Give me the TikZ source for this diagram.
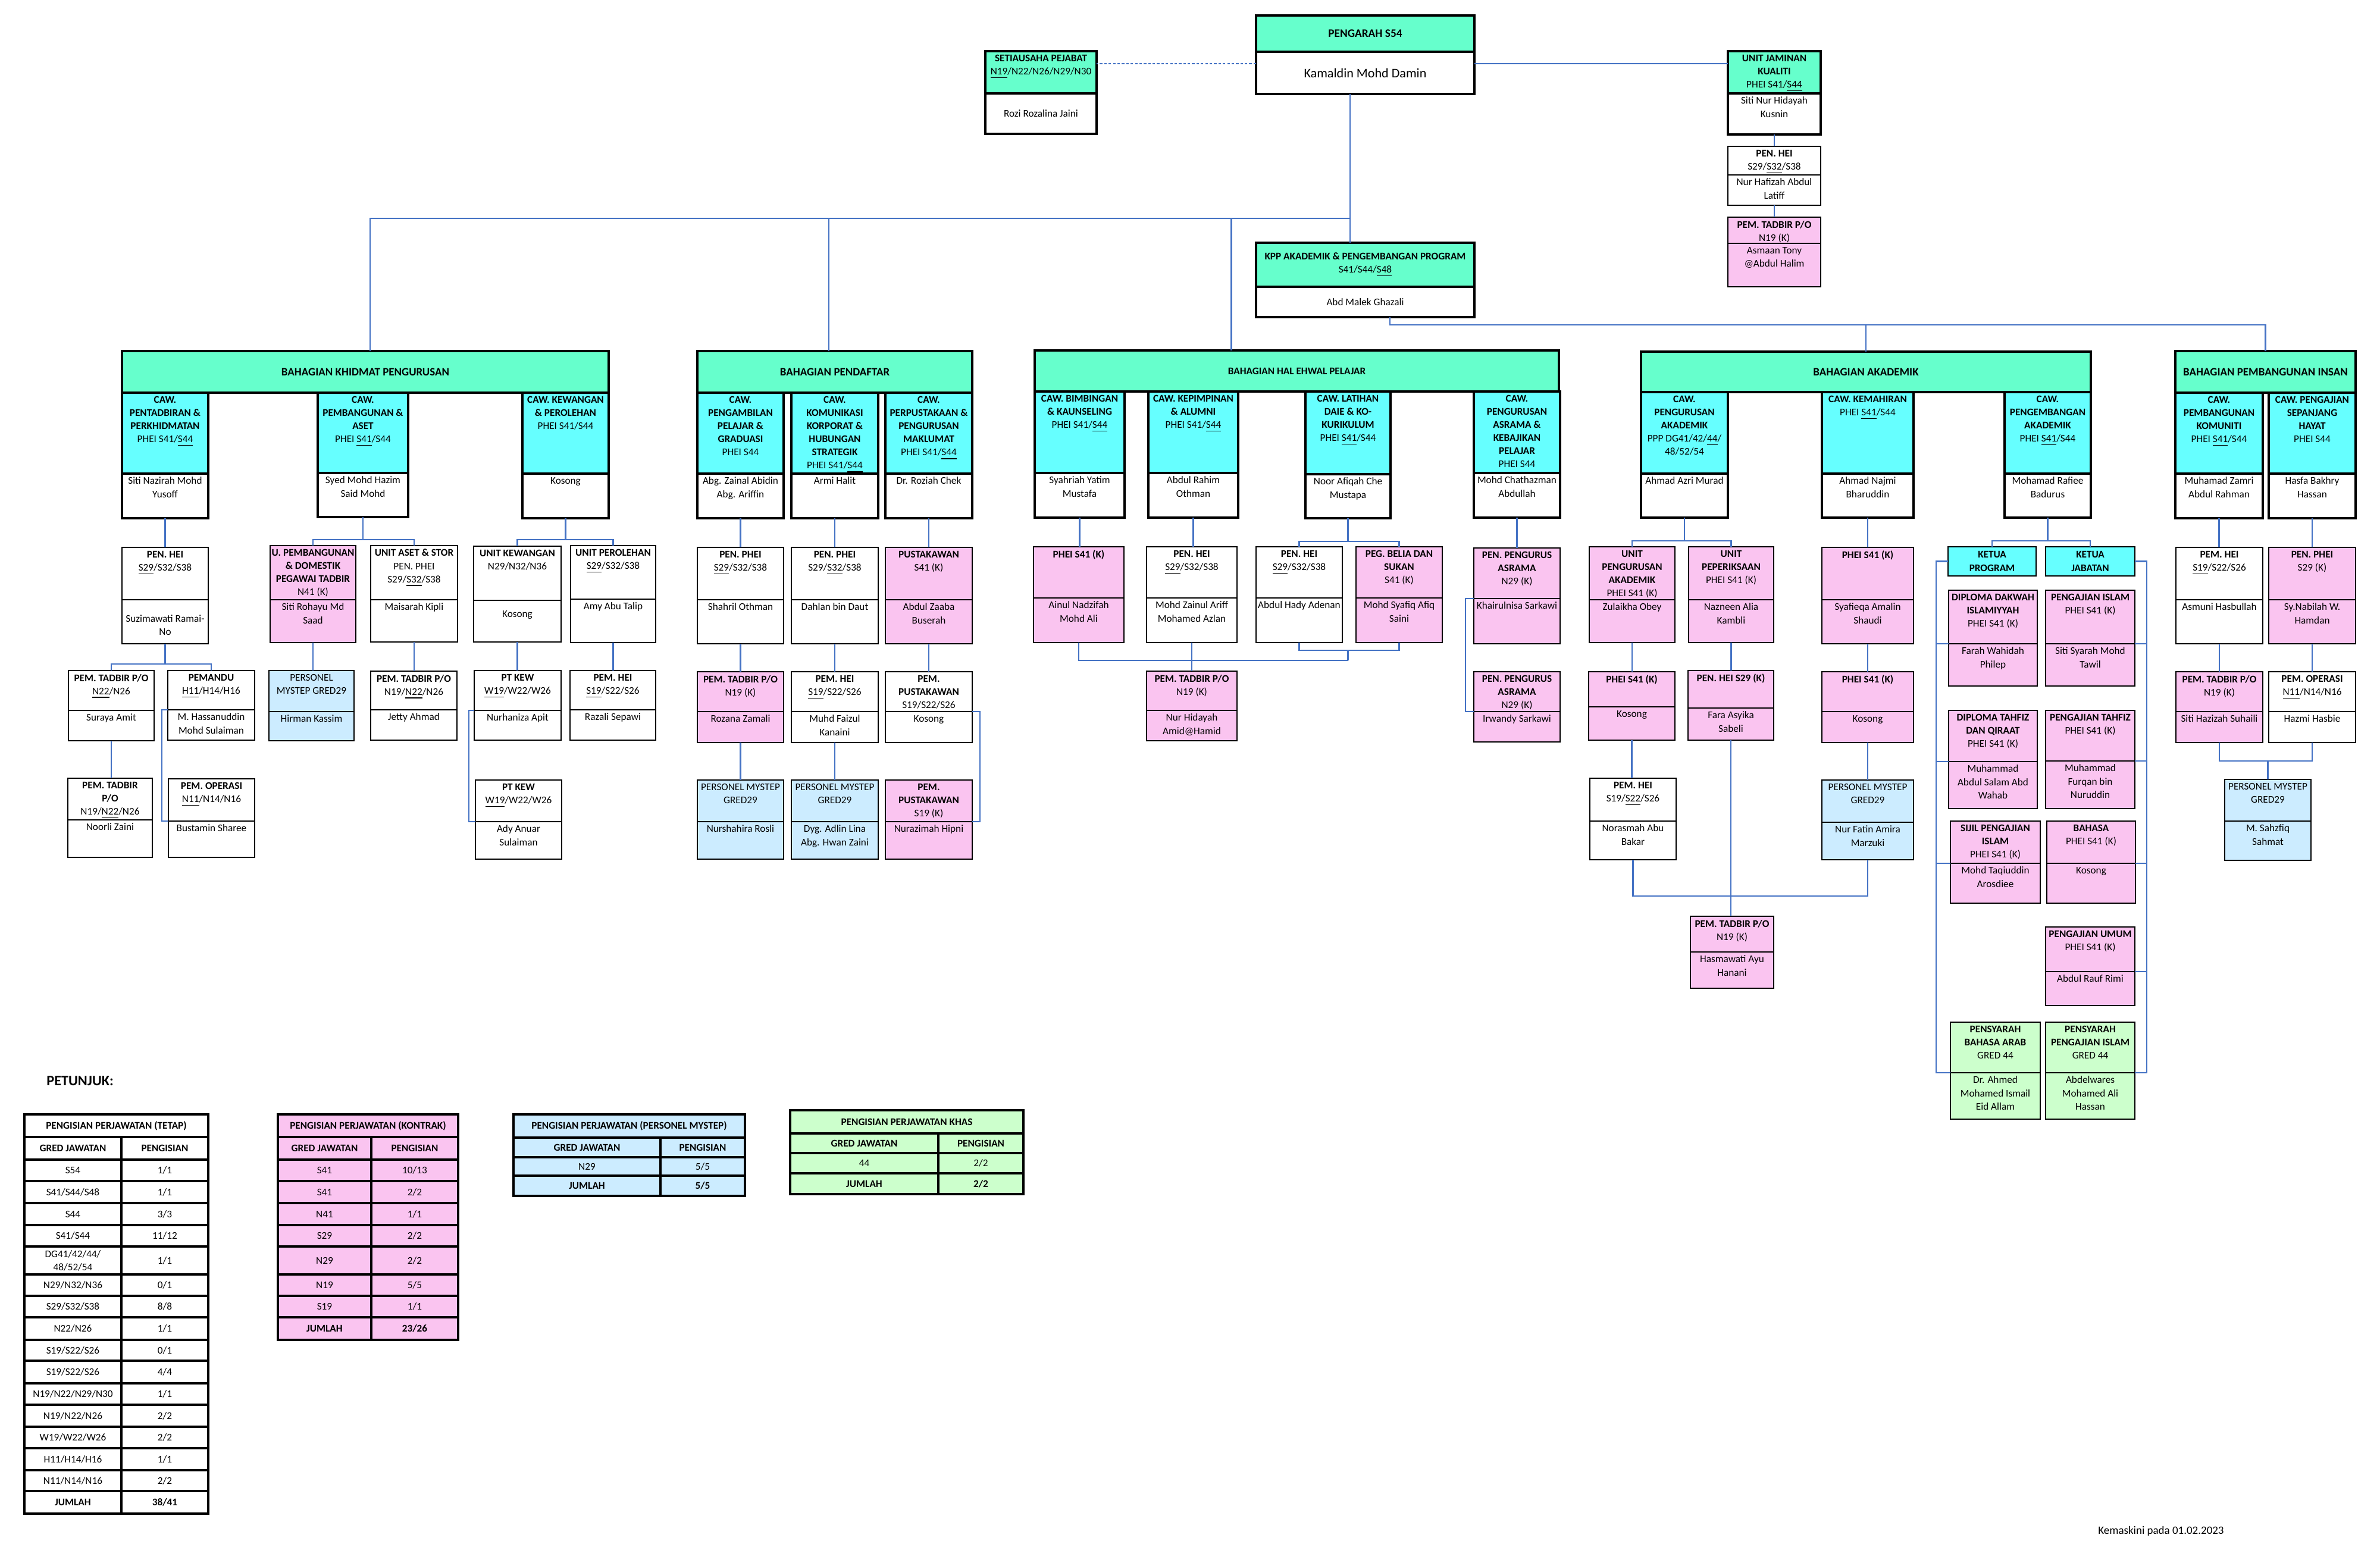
\documentclass[tikz,border=0pt]{standalone}
\usepackage{fontspec}
\setmainfont{Carlito}
\usepackage{tikz}
\usetikzlibrary{positioning,calc}
\definecolor{mint}{RGB}{102,255,204}
\definecolor{aqua}{RGB}{102,255,255}
\definecolor{pinkc}{RGB}{250,196,240}
\definecolor{skyc}{RGB}{204,236,255}
\definecolor{leaf}{RGB}{204,255,204}
\definecolor{linkblue}{RGB}{68,114,196}
\newcommand{\fs}{\fontsize{4.9}{6.3}\selectfont}
% post: name, header style, name style, top left, width, header height, name height, header text, person
\newcommand{\post}[9]{%
  \node[cell, anchor=north west, minimum width=#5cm, minimum height=#6cm, #2] (#1) at (#4) {};
  \node[cell, below=0pt of #1, minimum width=#5cm, minimum height=#7cm, #3] (#1-n) {};
  \node[txt] (#1-t) at (#1.north) {#8};
  \node[txt] (#1-nt) at (#1-n.north) {#9};
}

\begin{document}
\begin{tikzpicture}[x=1cm, y=-1cm,
    cell/.style={draw, inner sep=0pt, outer sep=0pt, line width=0.45pt},
    thk/.style={line width=0.95pt},
    box/.style={cell, anchor=north west, align=center, font=\fs},
    bhd/.style={box, thk, fill=mint, font=\bfseries\fontsize{5.4}{6.5}\selectfont},
    txt/.style={anchor=north, align=center, inner sep=1.5pt, font=\fs},
    wire/.style={draw=linkblue, line width=0.7pt},
    tbl/.style={cell, line width=0.9pt, anchor=north west, align=center, font=\fs}]
    \useasboundingbox (0,0) rectangle (40,26.27);

    % Pengarah
    \node[box, thk, fill=mint, minimum width=3.67cm, minimum height=0.61cm, font=\bfseries\fontsize{5.5}{6.5}\selectfont] (pengarah) at (21.11,0.26) {PENGARAH S54};
    \node[cell, thk, below=0pt of pengarah, minimum width=3.67cm, minimum height=0.71cm, font=\fontsize{6.3}{7.5}\selectfont] (pengarah-n) {Kamaldin Mohd Damin};

    % Setiausaha and Unit Jaminan Kualiti
    \post{setia}{fill=mint, thk}{thk}{16.56,0.86}{1.87}{0.71}{0.68}{\textbf{SETIAUSAHA PEJABAT}\\\underline{N19}/N22/N26/N29/N30}{\rule{0pt}{9.5pt}Rozi Rozalina Jaini}
    \post{ujk}{fill=mint, thk}{thk}{29.04,0.86}{1.56}{0.71}{0.69}{\textbf{UNIT JAMINAN}\\\textbf{KUALITI}\\PHEI S41/\underline{S44}}{Siti Nur Hidayah\\Kusnin}
    \post{ujkhei}{}{}{29.04,2.46}{1.56}{0.48}{0.51}{\textbf{PEN. HEI}\\S29/\underline{S32}/S38}{Nur Hafizah Abdul\\Latiff}
    \post{ujkpt}{fill=pinkc}{fill=pinkc}{29.04,3.65}{1.56}{0.44}{0.73}{\textbf{PEM. TADBIR P/O}\\N19 (K)}{Asmaan Tony\\@Abdul Halim}

    % KPP
    \node[box, thk, fill=mint, minimum width=3.67cm, minimum height=0.74cm] (kpp) at (21.11,4.08) {\textbf{KPP AKADEMIK \& PENGEMBANGAN PROGRAM}\\S41/S44/\underline{S48}};
    \node[cell, thk, below=0pt of kpp, minimum width=3.67cm, minimum height=0.51cm, font=\fs] (kpp-n) {Abd Malek Ghazali};

    % Bahagian headers
    \node[bhd, minimum width=8.18cm, minimum height=0.70cm] (bkp) at (2.05,5.90) {BAHAGIAN KHIDMAT PENGURUSAN};
    \node[bhd, minimum width=4.62cm, minimum height=0.70cm] (bpd) at (11.72,5.90) {BAHAGIAN PENDAFTAR};
    \node[bhd, minimum width=8.81cm, minimum height=0.69cm, font=\bfseries\fs] (bhep) at (17.39,5.89) {BAHAGIAN HAL EHWAL PELAJAR};
    \node[bhd, minimum width=7.56cm, minimum height=0.68cm] (bak) at (27.58,5.91) {BAHAGIAN AKADEMIK};
    \node[bhd, minimum width=3.03cm, minimum height=0.70cm] (bpi) at (36.56,5.90) {BAHAGIAN PEMBANGUNAN INSAN};

    % Bahagian Khidmat Pengurusan
    \post{cpp}{fill=aqua, thk}{thk}{2.05,6.60}{1.45}{1.36}{0.75}{\textbf{CAW.}\\\textbf{PENTADBIRAN \&}\\\textbf{PERKHIDMATAN}\\PHEI S41/\underline{S44}}{Siti Nazirah Mohd\\Yusoff}
    \post{cpa}{fill=aqua, thk}{thk}{5.34,6.60}{1.52}{1.35}{0.74}{\textbf{CAW.}\\\textbf{PEMBANGUNAN \&}\\\textbf{ASET}\\PHEI \underline{S41}/S44}{Syed Mohd Hazim\\Said Mohd}
    \post{ckw}{fill=aqua, thk}{thk}{8.78,6.60}{1.45}{1.36}{0.75}{\textbf{CAW. KEWANGAN}\\\textbf{\& PEROLEHAN}\\PHEI S41/S44}{Kosong}
    \post{phei1}{}{}{2.05,9.20}{1.45}{0.88}{0.74}{\textbf{PEN. HEI}\\\underline{S29}/S32/S38}{\rule{0pt}{9pt}Suzimawati Ramai-\\No}
    \post{upd}{fill=pinkc}{fill=pinkc}{4.54,9.17}{1.44}{0.91}{0.72}{\textbf{U. PEMBANGUNAN}\\\textbf{\& DOMESTIK}\\\textbf{PEGAWAI TADBIR}\\N41 (K)}{Siti Rohayu Md\\Saad}
    \post{uas}{}{}{6.23,9.17}{1.46}{0.91}{0.71}{\textbf{UNIT ASET \& STOR}\\PEN. PHEI\\S29/\underline{S32}/S38}{Maisarah Kipli}
    \post{ukw}{}{}{7.96,9.18}{1.47}{0.91}{0.70}{\textbf{UNIT KEWANGAN}\\N29/N32/N36}{\rule{0pt}{6.5pt}Kosong}
    \post{upr}{}{}{9.59,9.17}{1.43}{0.90}{0.73}{\textbf{UNIT PEROLEHAN}\\\underline{S29}/S32/S38}{Amy Abu Talip}
    \post{ptp1}{}{}{1.15,11.27}{1.44}{0.67}{0.51}{\textbf{PEM. TADBIR P/O}\\\underline{N22}/N26}{Suraya Amit}
    \post{pmd}{}{}{2.82,11.27}{1.46}{0.66}{0.51}{\textbf{PEMANDU}\\\underline{H11}/H14/H16}{M. Hassanuddin\\Mohd Sulaiman}
    \post{ptp2}{}{}{1.14,13.08}{1.42}{0.70}{0.63}{\textbf{PEM. TADBIR}\\\textbf{P/O}\\N19/\underline{N22}/N26}{Noorli Zaini}
    \post{pop1}{}{}{2.83,13.09}{1.45}{0.71}{0.61}{\textbf{PEM. OPERASI}\\\underline{N11}/N14/N16}{Bustamin Sharee}
    \post{pms1}{fill=skyc}{fill=skyc}{4.52,11.27}{1.43}{0.69}{0.49}{PERSONEL\\MYSTEP GRED29}{Hirman Kassim}
    \post{ptp3}{}{}{6.23,11.28}{1.45}{0.65}{0.51}{\textbf{PEM. TADBIR P/O}\\N19/\underline{N22}/N26}{Jetty Ahmad}
    \post{ptk1}{}{}{7.97,11.27}{1.46}{0.67}{0.50}{\textbf{PT KEW}\\\underline{W19}/W22/W26}{Nurhaniza Apit}
    \post{pmh1}{}{}{9.58,11.27}{1.44}{0.66}{0.51}{\textbf{PEM. HEI}\\\underline{S19}/S22/S26}{Razali Sepawi}
    \post{ptk2}{}{}{7.99,13.11}{1.45}{0.70}{0.63}{\textbf{PT KEW}\\\underline{W19}/W22/W26}{Ady Anuar\\Sulaiman}

    % Bahagian Pendaftar
    \post{cpg}{fill=aqua, thk}{thk}{11.72,6.60}{1.45}{1.36}{0.75}{\textbf{CAW.}\\\textbf{PENGAMBILAN}\\\textbf{PELAJAR \&}\\\textbf{GRADUASI}\\PHEI S44}{Abg. Zainal Abidin\\Abg. Ariffin}
    \post{ckk}{fill=aqua, thk}{thk}{13.30,6.60}{1.46}{1.36}{0.75}{\textbf{CAW.}\\\textbf{KOMUNIKASI}\\\textbf{KORPORAT \&}\\\textbf{HUBUNGAN}\\\textbf{STRATEGIK}\\PHEI S41/\underline{S44}}{Armi Halit}
    \post{cpk}{fill=aqua, thk}{thk}{14.88,6.60}{1.46}{1.36}{0.75}{\textbf{CAW.}\\\textbf{PERPUSTAKAAN \&}\\\textbf{PENGURUSAN}\\\textbf{MAKLUMAT}\\PHEI S41/\underline{S44}}{Dr. Roziah Chek}
    \post{pph1}{}{}{11.72,9.20}{1.45}{0.88}{0.74}{\textbf{PEN. PHEI}\\\underline{S29}/S32/S38}{Shahril Othman}
    \post{pph2}{}{}{13.30,9.20}{1.46}{0.88}{0.74}{\textbf{PEN. PHEI}\\S29/\underline{S32}/S38}{Dahlan bin Daut}
    \post{pus}{fill=pinkc}{fill=pinkc}{14.88,9.20}{1.46}{0.88}{0.74}{\textbf{PUSTAKAWAN}\\S41 (K)}{Abdul Zaaba\\Buserah}
    \post{ptp4}{fill=pinkc}{fill=pinkc}{11.72,11.29}{1.45}{0.67}{0.52}{\textbf{PEM. TADBIR P/O}\\N19 (K)}{Rozana Zamali}
    \post{pmh2}{}{}{13.30,11.29}{1.46}{0.67}{0.52}{\textbf{PEM. HEI}\\\underline{S19}/S22/S26}{Muhd Faizul\\Kanaini}
    \post{pps1}{}{}{14.88,11.29}{1.46}{0.67}{0.52}{\textbf{PEM.}\\\textbf{PUSTAKAWAN}\\S19/S22/S26}{Kosong}
    \post{pms2}{fill=skyc}{fill=skyc}{11.72,13.11}{1.45}{0.70}{0.63}{PERSONEL MYSTEP\\GRED29}{Nurshahira Rosli}
    \post{pms3}{fill=skyc}{fill=skyc}{13.30,13.11}{1.46}{0.70}{0.63}{PERSONEL MYSTEP\\GRED29}{Dyg. Adlin Lina\\Abg. Hwan Zaini}
    \post{pps2}{fill=pinkc}{fill=pinkc}{14.88,13.11}{1.46}{0.70}{0.63}{\textbf{PEM.}\\\textbf{PUSTAKAWAN}\\S19 (K)}{Nurazimah Hipni}

    % Bahagian Hal Ehwal Pelajar
    \post{cbk}{fill=aqua, thk}{thk}{17.39,6.58}{1.51}{1.37}{0.75}{\textbf{CAW. BIMBINGAN}\\\textbf{\& KAUNSELING}\\PHEI S41/\underline{S44}}{Syahriah Yatim\\Mustafa}
    \post{ckp}{fill=aqua, thk}{thk}{19.30,6.58}{1.51}{1.37}{0.75}{\textbf{CAW. KEPIMPINAN}\\\textbf{\& ALUMNI}\\PHEI S41/\underline{S44}}{Abdul Rahim\\Othman}
    \post{cld}{fill=aqua, thk}{thk}{21.94,6.58}{1.43}{1.39}{0.74}{\textbf{CAW. LATIHAN}\\\textbf{DAIE \& KO-}\\\textbf{KURIKULUM}\\PHEI \underline{S41}/S44}{Noor Afiqah Che\\Mustapa}
    \post{cas}{fill=aqua, thk}{thk}{24.77,6.58}{1.45}{1.37}{0.75}{\textbf{CAW.}\\\textbf{PENGURUSAN}\\\textbf{ASRAMA \&}\\\textbf{KEBAJIKAN}\\\textbf{PELAJAR}\\PHEI S44}{Mohd Chathazman\\Abdullah}
    \post{phk1}{fill=pinkc}{fill=pinkc}{17.37,9.19}{1.52}{0.86}{0.75}{\textbf{PHEI S41 (K)}}{Ainul Nadzifah\\Mohd Ali}
    \post{phe2}{}{}{19.27,9.19}{1.52}{0.86}{0.75}{\textbf{PEN. HEI}\\\underline{S29}/S32/S38}{Mohd Zainul Ariff\\Mohamed Azlan}
    \post{phe3}{}{}{21.11,9.19}{1.45}{0.86}{0.75}{\textbf{PEN. HEI}\\\underline{S29}/S32/S38}{Abdul Hady Adenan}
    \post{pbs}{fill=pinkc}{fill=pinkc}{22.79,9.19}{1.45}{0.86}{0.75}{\textbf{PEG. BELIA DAN}\\\textbf{SUKAN}\\S41 (K)}{Mohd Syafiq Afiq\\Saini}
    \post{ppa1}{fill=pinkc}{fill=pinkc}{24.77,9.21}{1.45}{0.85}{0.76}{\textbf{PEN. PENGURUS}\\\textbf{ASRAMA}\\N29 (K)}{Khairulnisa Sarkawi}
    \post{ptp5}{fill=pinkc}{fill=pinkc}{19.27,11.28}{1.52}{0.66}{0.51}{\textbf{PEM. TADBIR P/O}\\N19 (K)}{Nur Hidayah\\Amid@Hamid}
    \post{ppa2}{fill=pinkc}{fill=pinkc}{24.77,11.29}{1.45}{0.67}{0.51}{\textbf{PEN. PENGURUS}\\\textbf{ASRAMA}\\N29 (K)}{Irwandy Sarkawi}

    % Bahagian Akademik
    \post{cpak}{fill=aqua, thk}{thk}{27.58,6.59}{1.46}{1.37}{0.74}{\textbf{CAW.}\\\textbf{PENGURUSAN}\\\textbf{AKADEMIK}\\PPP DG41/42/\underline{44}/\\48/52/54}{Ahmad Azri Murad}
    \post{ckm}{fill=aqua, thk}{thk}{30.62,6.59}{1.54}{1.37}{0.74}{\textbf{CAW. KEMAHIRAN}\\PHEI \underline{S41}/S44}{Ahmad Najmi\\Bharuddin}
    \post{cpga}{fill=aqua, thk}{thk}{33.69,6.59}{1.45}{1.37}{0.74}{\textbf{CAW.}\\\textbf{PENGEMBANGAN}\\\textbf{AKADEMIK}\\PHEI \underline{S41}/S44}{Mohamad Rafiee\\Badurus}
    \post{upa}{fill=pinkc}{fill=pinkc}{26.71,9.19}{1.44}{0.89}{0.72}{\textbf{UNIT}\\\textbf{PENGURUSAN}\\\textbf{AKADEMIK}\\PHEI S41 (K)}{Zulaikha Obey}
    \post{upk}{fill=pinkc}{fill=pinkc}{28.38,9.19}{1.43}{0.89}{0.72}{\textbf{UNIT}\\\textbf{PEPERIKSAAN}\\PHEI S41 (K)}{Nazneen Alia\\Kambli}
    \post{psk1}{fill=pinkc}{fill=pinkc}{30.62,9.20}{1.54}{0.88}{0.74}{\textbf{PHEI S41 (K)}}{Syafieqa Amalin\\Shaudi}
    \post{psk2}{fill=pinkc}{fill=pinkc}{26.70,11.29}{1.45}{0.59}{0.56}{\textbf{PHEI S41 (K)}}{Kosong}
    \post{phs}{fill=pinkc}{fill=pinkc}{28.37,11.27}{1.44}{0.63}{0.54}{\textbf{PEN. HEI S29 (K)}}{Fara Asyika\\Sabeli}
    \post{psk3}{fill=pinkc}{fill=pinkc}{30.62,11.29}{1.54}{0.67}{0.52}{\textbf{PHEI S41 (K)}}{Kosong}
    \post{pmh3}{}{}{26.72,13.08}{1.45}{0.72}{0.65}{\textbf{PEM. HEI}\\S19/\underline{S22}/S26}{Norasmah Abu\\Bakar}
    \post{pms4}{fill=skyc}{fill=skyc}{30.62,13.11}{1.54}{0.71}{0.63}{PERSONEL MYSTEP\\GRED29}{Nur Fatin Amira\\Marzuki}
    \post{ptp6}{fill=pinkc}{fill=pinkc}{28.41,15.40}{1.40}{0.60}{0.61}{\textbf{PEM. TADBIR P/O}\\N19 (K)}{Hasmawati Ayu\\Hanani}
    \node[box, fill=aqua, line width=0.7pt, minimum width=1.48cm, minimum height=0.49cm, font=\bfseries\fs] (ktp) at (32.74,9.19) {KETUA\\PROGRAM};
    \node[box, fill=aqua, line width=0.7pt, minimum width=1.50cm, minimum height=0.49cm, font=\bfseries\fs] (ktj) at (34.38,9.19) {KETUA\\JABATAN};
    \post{ddi}{fill=pinkc}{fill=pinkc}{32.75,9.92}{1.49}{0.90}{0.71}{\textbf{DIPLOMA DAKWAH}\\\textbf{ISLAMIYYAH}\\PHEI S41 (K)}{Farah Wahidah\\Philep}
    \post{dtq}{fill=pinkc}{fill=pinkc}{32.75,11.94}{1.49}{0.86}{0.79}{\textbf{DIPLOMA TAHFIZ}\\\textbf{DAN QIRAAT}\\PHEI S41 (K)}{Muhammad\\Abdul Salam Abd\\Wahab}
    \post{spi}{fill=pinkc}{fill=pinkc}{32.78,13.80}{1.51}{0.71}{0.67}{\textbf{SIJIL PENGAJIAN}\\\textbf{ISLAM}\\PHEI S41 (K)}{Mohd Taqiuddin\\Arosdiee}
    \post{pba}{fill=leaf}{fill=leaf}{32.78,17.18}{1.51}{0.85}{0.78}{\textbf{PENSYARAH}\\\textbf{BAHASA ARAB}\\GRED 44}{Dr. Ahmed\\Mohamed Ismail\\Eid Allam}
    \post{pgi}{fill=pinkc}{fill=pinkc}{34.38,9.92}{1.50}{0.90}{0.71}{\textbf{PENGAJIAN ISLAM}\\PHEI S41 (K)}{Siti Syarah Mohd\\Tawil}
    \post{pgt}{fill=pinkc}{fill=pinkc}{34.38,11.94}{1.50}{0.85}{0.80}{\textbf{PENGAJIAN TAHFIZ}\\PHEI S41 (K)}{Muhammad\\Furqan bin\\Nuruddin}
    \post{bhs}{fill=pinkc}{fill=pinkc}{34.40,13.80}{1.49}{0.71}{0.67}{\textbf{BAHASA}\\PHEI S41 (K)}{Kosong}
    \post{pgu}{fill=pinkc}{fill=pinkc}{34.38,15.58}{1.50}{0.75}{0.57}{\textbf{PENGAJIAN UMUM}\\PHEI S41 (K)}{Abdul Rauf Rimi}
    \post{ppi}{fill=leaf}{fill=leaf}{34.38,17.18}{1.50}{0.85}{0.78}{\textbf{PENSYARAH}\\\textbf{PENGAJIAN ISLAM}\\GRED 44}{Abdelwares\\Mohamed Ali\\Hassan}

    % Bahagian Pembangunan Insan
    \post{ckom}{fill=aqua, thk}{thk}{36.56,6.60}{1.47}{1.36}{0.75}{\textbf{CAW.}\\\textbf{PEMBANGUNAN}\\\textbf{KOMUNITI}\\PHEI \underline{S41}/S44}{Muhamad Zamri\\Abdul Rahman}
    \post{csh}{fill=aqua, thk}{thk}{38.13,6.60}{1.46}{1.36}{0.75}{\textbf{CAW. PENGAJIAN}\\\textbf{SEPANJANG}\\\textbf{HAYAT}\\PHEI S44}{Hasfa Bakhry\\Hassan}
    \post{pmh4}{}{}{36.57,9.20}{1.46}{0.88}{0.74}{\textbf{PEM. HEI}\\\underline{S19}/S22/S26}{Asmuni Hasbullah}
    \post{pph3}{fill=pinkc}{fill=pinkc}{38.13,9.20}{1.46}{0.88}{0.74}{\textbf{PEN. PHEI}\\S29 (K)}{Sy.Nabilah W.\\Hamdan}
    \post{ptp7}{fill=pinkc}{fill=pinkc}{36.57,11.29}{1.46}{0.67}{0.52}{\textbf{PEM. TADBIR P/O}\\N19 (K)}{Siti Hazizah Suhaili}
    \post{pop2}{}{}{38.13,11.29}{1.46}{0.67}{0.52}{\textbf{PEM. OPERASI}\\\underline{N11}/N14/N16}{Hazmi Hasbie}
    \post{pms5}{fill=skyc}{fill=skyc}{37.39,13.10}{1.45}{0.70}{0.66}{PERSONEL MYSTEP\\GRED29}{M. Sahzfiq\\Sahmat}

    % Connectors: top
    \coordinate (t0) at (22.69,3.67);
    \draw[wire] (t0 |- pengarah-n.south) -- (t0 |- kpp.north);
    \coordinate (d1) at ($(pengarah-n.north west)+(0,0.2)$);
    \draw[wire, line width=0.8pt, dash pattern=on 1.2pt off 0.9pt] (d1) -- (d1 -| setia.east);
    \draw[wire] (d1 -| pengarah-n.east) -- (d1 -| ujk.west);
    \draw[wire] (ujk-n.south) -- (ujk-n.south |- ujkhei.north);
    \draw[wire] (ujkhei-n.south) -- (ujkhei-n.south |- ujkpt.north);
    \coordinate (bkpin) at ([xshift=0.08cm]bkp.north);
    \coordinate (bpdin) at ([xshift=-0.1cm]bpd.north);
    \coordinate (hepin) at ([xshift=-1.1cm]bhep.north);
    \draw[wire] (t0) -| (bkpin);
    \draw[wire] (bpdin |- t0) -- (bpdin);
    \draw[wire] (hepin |- t0) -- (hepin);
    \coordinate (t1) at (23.36,5.46);
    \draw[wire] (t1 |- kpp-n.south) -- (t1) -| (bpi.north);
    \draw[wire] (t1 -| bak.north) -- (bak.north);

    % Connectors: straight drops
    \foreach \a/\b in {cpp/phei1, ptp1/ptp2, upd/pms1, uas/ptp3, ukw/ptk1, upr/pmh1,
        cpg/pph1, ckk/pph2, cpk/pus, pph1/ptp4, pph2/pmh2, pus/pps1, ptp4/pms2, pmh2/pms3,
        cbk/phk1, ckp/phe2, cas/ppa1, phe2/ptp5,
        upa/psk2, psk2/pmh3, upk/phs, phs/ptp6, ckm/psk1, psk1/psk3, psk3/pms4,
        ckom/pmh4, csh/pph3, pmh4/ptp7, pph3/pop2}
        \draw[wire] (\a-n.south) -- (\a-n.south |- \b.north);

    % Connectors: brackets and elbows
    \draw[wire] (cpa-n.south) -- ++(0,0.38) coordinate (b1) (upd.north) |- (b1) -| (uas.north);
    \draw[wire] (ckw-n.south) -- ++(0,0.36) coordinate (b2) (ukw.north) |- (b2) -| (upr.north);
    \draw[wire] (phei1-n.south) -- ++(0,0.34) coordinate (b3) (ptp1.north) |- (b3) -| (pmd.north);
    \draw[wire] (pmd.south west) -- ++(-0.1,0) |- (pop1.south west);
    \draw[wire] (ptk1.south west) -- ++(-0.09,0) |- (ptk2.south west);
    \draw[wire] (pps1.south east) -- ++(0.13,0) |- (pps2.south east);
    \draw[wire] (cld-n.south) -- ++(0,0.39) coordinate (b4) (phe3.north) |- (b4) -| (pbs.north);
    \draw[wire] (phe3-n.south) -- ++(0,0.13) coordinate (b5) -| (pbs-n.south);
    \draw[wire] (b5 -| cld.south) -- ++(0,0.17) coordinate (b6);
    \draw[wire] (phk1-n.south) |- (b6);
    \draw[wire] (ppa1.south west) -- ++(-0.14,0) |- (ppa2.south west);
    \draw[wire] (cpak-n.south) -- ++(0,0.39) coordinate (b7) (upa.north) |- (b7) -| (upk.north);
    \draw[wire] (pmh3-n.south) -- ++(0,0.61) -| (pms4-n.south);
    \draw[wire] (cpga-n.south) -- ++(0,0.39) coordinate (b8) (ktp.north) |- (b8) -| (ktj.north);
    \draw[wire] (ktp.west) -- ++(-0.2,0) coordinate (kl) |- (pba.south west);
    \foreach \b in {ddi,dtq,spi}
        \draw[wire] (kl |- \b.south west) -- (\b.south west);
    \draw[wire] (ktj.east) -- ++(0.2,0) coordinate (kr) |- (ppi.south east);
    \foreach \b in {pgi,pgt,bhs,pgu}
        \draw[wire] (kr |- \b.south east) -- (\b.south east);
    \draw[wire] (ptp7-n.south) -- ++(0,0.31) -| (pop2-n.south);
    \draw[wire] (pms5.north) -- ++(0,-0.31);

    % Petunjuk
    \node[anchor=west, font=\bfseries\fontsize{6.9}{8}\selectfont] (petunjuk) at (0.66,18.17) {PETUNJUK:};
    \node[tbl, minimum width=3.09cm, minimum height=0.38cm, font=\bfseries\fs] (tetap) at (0.41,18.73) {PENGISIAN PERJAWATAN (TETAP)};
    \foreach \ya/\yb/\g/\p [count=\i] in {19.11/19.49/{\textbf{GRED JAWATAN}}/{\textbf{PENGISIAN}},
        19.49/19.85/S54/{1/1}, 19.85/20.22/{S41/S44/S48}/{1/1}, 20.22/20.59/S44/{3/3},
        20.59/20.95/{S41/S44}/{11/12}, 20.95/21.42/{DG41/42/44/\\48/52/54}/{1/1},
        21.42/21.78/{N29/N32/N36}/{0/1}, 21.78/22.14/{S29/S32/S38}/{8/8},
        22.14/22.52/{N22/N26}/{1/1}, 22.52/22.87/{S19/S22/S26}/{0/1},
        22.87/23.25/{S19/S22/S26}/{4/4}, 23.25/23.61/{N19/N22/N29/N30}/{1/1},
        23.61/23.98/{N19/N22/N26}/{2/2}, 23.98/24.34/{W19/W22/W26}/{2/2},
        24.34/24.71/{H11/H14/H16}/{1/1}, 24.71/25.06/{N11/N14/N16}/{2/2},
        25.06/25.44/{\textbf{JUMLAH}}/{\textbf{38/41}}} {
        \node[tbl, minimum width=1.63cm, minimum height={(\yb-\ya)*1cm}] (tetap-g\i) at (0.41,\ya) {\g};
        \node[tbl, minimum width=1.46cm, minimum height={(\yb-\ya)*1cm}] (tetap-p\i) at (2.04,\ya) {\p};
    }
    \node[tbl, fill=pinkc, minimum width=3.03cm, minimum height=0.38cm, font=\bfseries\fs] (kontrak) at (4.67,18.73) {PENGISIAN PERJAWATAN (KONTRAK)};
    \foreach \ya/\yb/\g/\p [count=\i] in {19.11/19.49/{\textbf{GRED JAWATAN}}/{\textbf{PENGISIAN}},
        19.49/19.85/S41/{10/13}, 19.85/20.22/S41/{2/2}, 20.22/20.59/N41/{1/1},
        20.59/20.95/S29/{2/2}, 20.95/21.42/N29/{2/2}, 21.42/21.78/N19/{5/5},
        21.78/22.14/S19/{1/1}, 22.14/22.52/{\textbf{JUMLAH}}/{\textbf{23/26}}} {
        \node[tbl, fill=pinkc, minimum width=1.57cm, minimum height={(\yb-\ya)*1cm}] (kontrak-g\i) at (4.67,\ya) {\g};
        \node[tbl, fill=pinkc, minimum width=1.46cm, minimum height={(\yb-\ya)*1cm}] (kontrak-p\i) at (6.24,\ya) {\p};
    }
    \node[tbl, fill=skyc, minimum width=3.89cm, minimum height=0.39cm, font=\bfseries\fs] (mystep) at (8.63,18.73) {PENGISIAN PERJAWATAN (PERSONEL MYSTEP)};
    \foreach \ya/\yb/\g/\p [count=\i] in {19.12/19.45/{\textbf{GRED JAWATAN}}/{\textbf{PENGISIAN}},
        19.45/19.76/N29/{5/5}, 19.76/20.10/{\textbf{JUMLAH}}/{\textbf{5/5}}} {
        \node[tbl, fill=skyc, minimum width=2.47cm, minimum height={(\yb-\ya)*1cm}] (mystep-g\i) at (8.63,\ya) {\g};
        \node[tbl, fill=skyc, minimum width=1.42cm, minimum height={(\yb-\ya)*1cm}] (mystep-p\i) at (11.10,\ya) {\p};
    }
    \node[tbl, fill=leaf, minimum width=3.92cm, minimum height=0.39cm, font=\bfseries\fs] (khas) at (13.28,18.66) {PENGISIAN PERJAWATAN KHAS};
    \foreach \ya/\yb/\g/\p [count=\i] in {19.05/19.38/{\textbf{GRED JAWATAN}}/{\textbf{PENGISIAN}},
        19.38/19.72/44/{2/2}, 19.72/20.07/{\textbf{JUMLAH}}/{\textbf{2/2}}} {
        \node[tbl, fill=leaf, minimum width=2.49cm, minimum height={(\yb-\ya)*1cm}] (khas-g\i) at (13.28,\ya) {\g};
        \node[tbl, fill=leaf, minimum width=1.43cm, minimum height={(\yb-\ya)*1cm}] (khas-p\i) at (15.77,\ya) {\p};
    }

    % Tarikh
    \node[font=\fontsize{5.4}{6.5}\selectfont] (kemaskini) at (36.32,25.73) {Kemaskini pada 01.02.2023};
\end{tikzpicture}
\end{document}
